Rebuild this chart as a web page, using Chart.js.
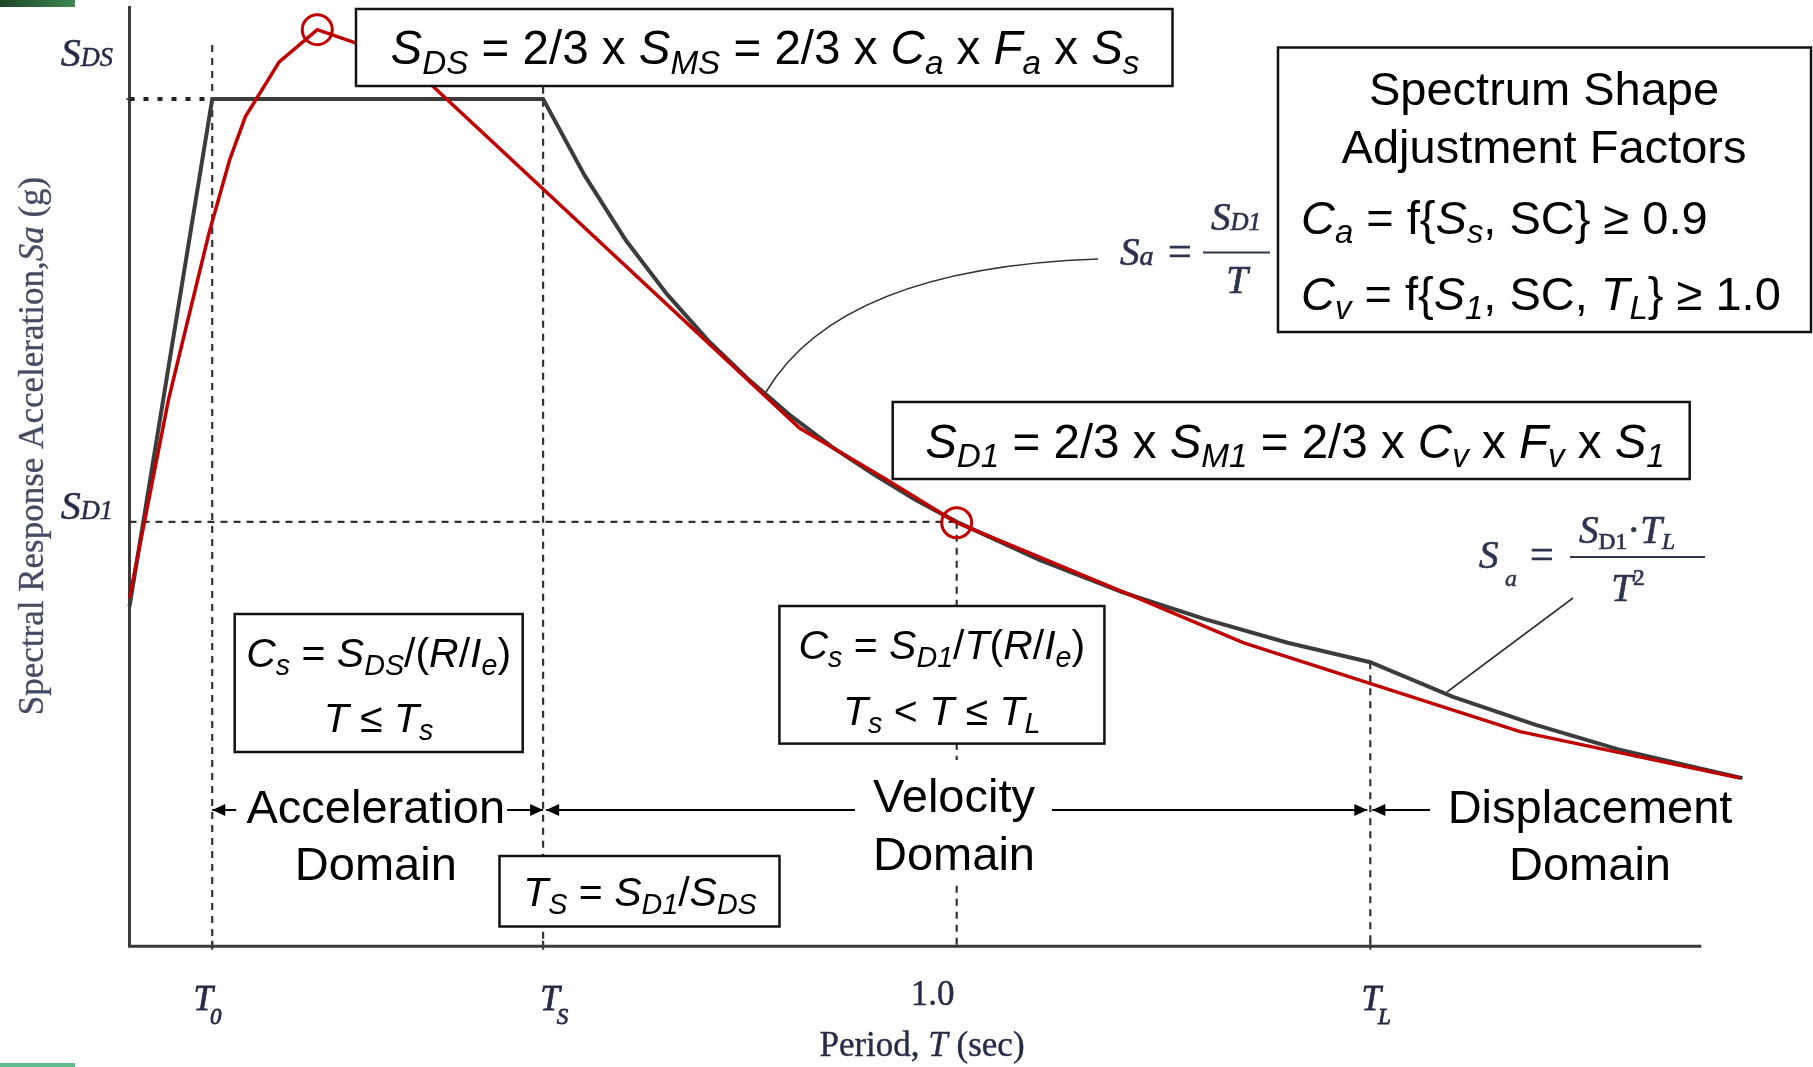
<!DOCTYPE html>
<html><head><meta charset="utf-8">
<script src="https://cdn.jsdelivr.net/npm/chart.js@4.4.1/dist/chart.umd.min.js"></script>
<style>html,body{margin:0;padding:0;background:#fff;overflow:hidden}canvas{display:block}</style>
</head><body>
<canvas id="c" width="1813" height="1067" style="width:1813px;height:1067px"></canvas>
<script>
// ---------- data ----------
// design spectrum (black), period T (sec, marked 1.0 = 1.0) and Sa (SDS = 1.0)
const designT  = [0, 0.1, 0.5, 0.55, 0.6, 0.65, 0.7, 0.75, 0.8, 0.85, 0.9, 0.95, 1.0, 1.1, 1.2, 1.3, 1.4, 1.5, 1.6, 1.7, 1.8, 1.9, 1.95];
const designSa = [0.40, 1.0, 1.0, 0.91, 0.833, 0.769, 0.714, 0.667, 0.625, 0.588, 0.556, 0.526, 0.5, 0.455, 0.417, 0.385, 0.357, 0.334, 0.293, 0.260, 0.231, 0.208, 0.197];
// proposed spectrum (red)
const proposedT  = [0, 0.047, 0.096, 0.121, 0.140, 0.181, 0.227, 0.274, 0.334, 0.810, 0.915, 1.0, 1.214, 1.347, 1.681, 1.947];
const proposedSa = [0.41, 0.644, 0.841, 0.928, 0.979, 1.044, 1.082, 1.066, 1.045, 0.611, 0.550, 0.499, 0.412, 0.357, 0.252, 0.197];
// red circle markers
const markerT  = [0.227, 1.0];
const markerSa = [1.082, 0.499];
// reference levels / periods
const levelSDS = 1.0, levelSD1 = 0.5;
const periodT0 = 0.1, periodTs = 0.5, periodOne = 1.0, periodTL = 1.5;
const axisEndT = 1.9, axisTopSa = 1.11;
// vertical guide lines: period and top value
const guideT   = [periodT0, periodTs, periodOne, periodTL];
const guideTop = [1.064, 1.03, levelSD1, 0.334];
// tick labels
const xTickValues = [periodT0, periodTs, periodOne, periodTL];
const xTickMain   = ['T', 'T', '1.0', 'T'];
const xTickSub    = ['0', 'S', '', 'L'];
const yTickValues = [levelSDS, levelSD1];
const yTickMain   = ['S', 'S'];
const yTickSmall  = ['DS', 'D1'];

// ---------- styles / layout ----------
const SANS = '"Liberation Sans", Arial, Helvetica, sans-serif';
const SERIF = '"Liberation Serif", "Times New Roman", Times, serif';
const RED = '#c00000', BLK = '#3c3c3c', LBL = '#262c48';
const xTickShift = [-9, 7, -24, 1];
const yTickShift = [-32.6, -3];

const pts = (xs, ys) => xs.map((x, i) => ({x, y: ys[i]}));
const guides = guideT.map((t, i) => ({
  data: [{x: t, y: guideTop[i]}, {x: t, y: 0}],
  borderColor: '#333', borderWidth: 2.2, borderDash: [7, 6], pointRadius: 0, order: 10, clip: false
}));

function rich(ctx, segs, x, y, o) {
  const fs = o.size, fam = o.family, ss = o.subScale || 0.7, sd = o.subDy == null ? 0.2 : o.subDy;
  const parts = segs.map(s => {
    const t = Array.isArray(s) ? s[0] : s, f = Array.isArray(s) ? (s[1] || '') : '';
    const small = f.includes('_') || f.includes('^') || f.includes('k');
    const size = small ? fs * (f.includes('k') ? (o.kScale || 0.68) : ss) : fs;
    const font = (f.includes('i') ? 'italic ' : '') + size + 'px ' + fam;
    ctx.font = font;
    const dy = f.includes('_') ? fs * sd : f.includes('^') ? -fs * 0.4 : 0;
    return {t, font, w: ctx.measureText(t).width, dy};
  });
  const total = parts.reduce((a, p) => a + p.w, 0);
  let cx = o.align === 'center' ? x - total / 2 : o.align === 'right' ? x - total : x;
  ctx.textAlign = 'left'; ctx.textBaseline = 'alphabetic';
  parts.forEach(p => {
    ctx.font = p.font; ctx.fillText(p.t, cx, y + p.dy);
    if (o.stroke) { ctx.save(); ctx.lineWidth = o.stroke; ctx.strokeStyle = ctx.fillStyle; ctx.strokeText(p.t, cx, y + p.dy); ctx.restore(); }
    cx += p.w;
  });
  return total;
}
function box(ctx, x, y, w, h) {
  ctx.save(); ctx.fillStyle = '#fff'; ctx.fillRect(x, y, w, h);
  ctx.strokeStyle = '#111'; ctx.lineWidth = 2.5; ctx.strokeRect(x, y, w, h); ctx.restore();
}
function arrow(ctx, x1, x2, y, headAt) {
  ctx.save(); ctx.strokeStyle = '#000'; ctx.fillStyle = '#000'; ctx.lineWidth = 2;
  ctx.beginPath(); ctx.moveTo(x1, y); ctx.lineTo(x2, y); ctx.stroke();
  const hx = headAt === 'left' ? x1 : x2, d = headAt === 'left' ? 1 : -1;
  ctx.beginPath(); ctx.moveTo(hx, y); ctx.lineTo(hx + d * 13, y - 6); ctx.lineTo(hx + d * 13, y + 6); ctx.closePath(); ctx.fill();
  ctx.restore();
}

const deco = {
  id: 'deco',
  beforeDraw(chart) {
    const ctx = chart.ctx; ctx.save();
    const g = ctx.createLinearGradient(0, 0, 75, 0); g.addColorStop(0, '#1d4426'); g.addColorStop(1, '#3f8a52');
    ctx.fillStyle = g; ctx.fillRect(0, 0, 75, 7);
    ctx.fillStyle = '#5fbb8c'; ctx.fillRect(0, 1063, 75, 4);
    ctx.restore();
  },
  beforeDatasetsDraw(chart) {
    const ctx = chart.ctx, xs = chart.scales.x, ys = chart.scales.y;
    const X = v => xs.getPixelForValue(v), Y = v => ys.getPixelForValue(v);
    ctx.save();
    ctx.strokeStyle = '#3a3a3a'; ctx.lineWidth = 3; ctx.lineCap = 'butt';
    ctx.beginPath(); ctx.moveTo(X(0), Y(axisTopSa)); ctx.lineTo(X(0), Y(0) + 1.5); ctx.lineTo(X(axisEndT), Y(0) + 1.5); ctx.stroke();
    ctx.lineWidth = 2.2;
    [periodT0, periodTs, periodTL].forEach(t => { ctx.beginPath(); ctx.moveTo(X(t), Y(0) - 4); ctx.lineTo(X(t), Y(0) + 5); ctx.stroke(); });
    ctx.beginPath(); ctx.moveTo(X(0) - 3, Y(levelSDS)); ctx.lineTo(X(0) + 5, Y(levelSDS)); ctx.stroke();
    ctx.restore();
  },
  afterDatasetsDraw(chart) {
    const ctx = chart.ctx, xs = chart.scales.x, ys = chart.scales.y;
    const X = v => xs.getPixelForValue(v), Y = v => ys.getPixelForValue(v);
    ctx.save();
    // leader lines
    ctx.strokeStyle = '#333'; ctx.lineWidth = 1.6;
    ctx.beginPath(); ctx.moveTo(766, 392); ctx.quadraticCurveTo(840, 268, 1098, 259); ctx.stroke();
    ctx.beginPath(); ctx.moveTo(1447, 692); ctx.lineTo(1573, 598); ctx.stroke();

    // boxes
    box(ctx, 356, 9, 816.5, 77);
    box(ctx, 1278, 47.5, 533, 284.5);
    box(ctx, 892.7, 402, 797, 77);
    box(ctx, 234.7, 614, 288, 138);
    box(ctx, 779.4, 606, 325, 137.6);
    box(ctx, 499.5, 856, 280, 70.5);

    ctx.fillStyle = '#000';
    const s47 = {family: SANS, size: 47.5, align: 'center'};
    rich(ctx, [['S','i'],['DS','i_'],' = 2/3 x ',['S','i'],['MS','i_'],' = 2/3 x ',['C','i'],['a','i_'],' x ',['F','i'],['a','i_'],' x ',['S','i'],['s','i_']], 765, 47 + 17, s47);
    rich(ctx, [['S','i'],['D1','i_'],' = 2/3 x ',['S','i'],['M1','i_'],' = 2/3 x ',['C','i'],['v','i_'],' x ',['F','i'],['v','i_'],' x ',['S','i'],['1','i_']], 1295, 440.5 + 17, s47);
    const s47c = {family: SANS, size: 47, align: 'center'};
    const s47l = {family: SANS, size: 47, align: 'left'};
    rich(ctx, ['Spectrum Shape'], 1544, 88 + 17, s47c);
    rich(ctx, ['Adjustment Factors'], 1544, 146 + 17, s47c);
    rich(ctx, [['C','i'],['a','i_'],' = f{',['S','i'],['s','i_'],', SC} \u2265 0.9'], 1301, 217 + 17, s47l);
    rich(ctx, [['C','i'],['v','i_'],' = f{',['S','i'],['1','i_'],', SC, ',['T','i'],['L','i_'],'} \u2265 1.0'], 1301, 292.5 + 17, s47l);
    const s41 = {family: SANS, size: 41, align: 'center'};
    rich(ctx, [['C','i'],['s','i_'],' = ',['S','i'],['DS','i_'],'/(',['R','i'],'/',['I','i'],['e','i_'],')'], 378.6, 652 + 15, s41);
    rich(ctx, [['T','i'],' \u2264 ',['T','i'],['s','i_']], 378.6, 717 + 15, s41);
    rich(ctx, [['C','i'],['s','i_'],' = ',['S','i'],['D1','i_'],'/',['T','i'],'(',['R','i'],'/',['I','i'],['e','i_'],')'], 941.8, 644 + 15, s41);
    rich(ctx, [['T','i'],['s','i_'],' < ',['T','i'],' \u2264 ',['T','i'],['L','i_']], 941.8, 710 + 15, s41);
    rich(ctx, [['T','i'],['S','i_'],' = ',['S','i'],['D1','i_'],'/',['S','i'],['DS','i_']], 640, 891 + 15, s41);

    // domain labels + arrows
    ctx.fillStyle = '#fff'; ctx.fillRect(872, 760, 166, 120); ctx.fillStyle = '#000';
    rich(ctx, ['Acceleration'], 375.8, 806 + 17, s47c);
    rich(ctx, ['Domain'], 375.8, 863 + 17, s47c);
    rich(ctx, ['Velocity'], 954, 795 + 17, s47c);
    rich(ctx, ['Domain'], 954, 853 + 17, s47c);
    rich(ctx, ['Displacement'], 1590, 806 + 17, s47c);
    rich(ctx, ['Domain'], 1590, 863 + 17, s47c);
    const ay = 810;
    arrow(ctx, X(periodT0), X(periodT0) + 24, ay, 'left');
    arrow(ctx, X(periodTs) - 36, X(periodTs), ay, 'right');
    arrow(ctx, X(periodTs) + 3, 855, ay, 'left');
    arrow(ctx, 1052, X(periodTL) - 3, ay, 'right');
    arrow(ctx, X(periodTL) + 2, 1430, ay, 'left');

    // serif formulas
    ctx.fillStyle = '#2e3450'; ctx.strokeStyle = '#2e3450';
    rich(ctx, [['S','i'],['a','ik']], 1120, 265, {family: SERIF, size: 39, align: 'left', kScale: 0.72, stroke: 0.7});
    rich(ctx, ['='], 1168, 265, {family: SERIF, size: 42, align: 'left', stroke: 0.7});
    ctx.lineWidth = 2; ctx.beginPath(); ctx.moveTo(1203, 252.5); ctx.lineTo(1270, 252.5); ctx.stroke();
    rich(ctx, [['S','i'],['D1','ik']], 1236, 230, {family: SERIF, size: 39, align: 'center', kScale: 0.64, stroke: 0.7});
    rich(ctx, [['T','i']], 1237, 293, {family: SERIF, size: 39, align: 'center', stroke: 0.7});

    rich(ctx, [['S','i']], 1479, 568, {family: SERIF, size: 39, align: 'left', stroke: 0.7});
    rich(ctx, [['a','i']], 1505, 586, {family: SERIF, size: 24, align: 'left', stroke: 0.5});
    rich(ctx, ['='], 1530, 568, {family: SERIF, size: 42, align: 'left', stroke: 0.7});
    ctx.lineWidth = 2; ctx.beginPath(); ctx.moveTo(1570, 557); ctx.lineTo(1705, 557); ctx.stroke();
    rich(ctx, [['S','i'],['D1','_'],'\u00b7',['T','i'],['L','i_']], 1627, 543, {family: SERIF, size: 39, align: 'center', subScale: 0.6, subDy: 0.15, stroke: 0.7});
    rich(ctx, [['T','i'],['2','^']], 1628, 601, {family: SERIF, size: 39, align: 'center', subScale: 0.6, stroke: 0.7});

    // y tick labels
    ctx.fillStyle = LBL;
    yTickValues.forEach((v, i) => {
      rich(ctx, [[yTickMain[i], 'i'], [yTickSmall[i], 'ik']], 113, Y(v) + yTickShift[i], {family: SERIF, size: 40, align: 'right', kScale: 0.66, stroke: 0.5});
    });
    // x tick labels
    xTickValues.forEach((v, i) => {
      const cx = X(v) + xTickShift[i];
      if (xTickSub[i]) {
        ctx.font = 'italic 35px ' + SERIF; const w = ctx.measureText(xTickMain[i]).width;
        ctx.textAlign = 'left'; ctx.textBaseline = 'alphabetic';
        ctx.lineWidth = 0.8; ctx.strokeStyle = LBL;
        ctx.fillText(xTickMain[i], cx - w / 2, 1010); ctx.strokeText(xTickMain[i], cx - w / 2, 1010);
        ctx.font = 'italic 23px ' + SERIF; ctx.fillText(xTickSub[i], cx + w / 2 - 3, 1024); ctx.strokeText(xTickSub[i], cx + w / 2 - 3, 1024);
      } else {
        rich(ctx, [xTickMain[i]], cx, 1005, {family: SERIF, size: 35, align: 'center', stroke: 0.4});
      }
    });
    // axis titles
    rich(ctx, ['Period, ', ['T','i'], ' (sec)'], 922, 1056, {family: SERIF, size: 35, align: 'center', stroke: 0.4});
    ctx.save(); ctx.fillStyle = '#454b63';
    ctx.translate(43, 446); ctx.rotate(-Math.PI / 2);
    rich(ctx, ['Spectral Response Acceleration,', ['Sa','i'], ' (g)'], 0, 0, {family: SERIF, size: 35, align: 'center', stroke: 0.3});
    ctx.restore();
    ctx.restore();
  }
};

new Chart(document.getElementById('c'), {
  type: 'line',
  data: {
    datasets: [
      {data: pts(markerT, markerSa), showLine: false, pointRadius: 15, pointHoverRadius: 15, pointBorderWidth: 3,
       pointBorderColor: RED, pointBackgroundColor: 'rgba(0,0,0,0)', borderColor: RED, order: 1, clip: false},
      {data: pts(proposedT, proposedSa), borderColor: RED, borderWidth: 3.5, pointRadius: 0, tension: 0, order: 2, clip: false},
      {data: pts(designT, designSa), borderColor: BLK, borderWidth: 4, pointRadius: 0, tension: 0, order: 3, clip: false},
      {data: [{x: 0, y: levelSDS}, {x: periodT0, y: levelSDS}], borderColor: '#222', borderWidth: 4, borderDash: [5, 9], pointRadius: 0, order: 10, clip: false},
      {data: [{x: 0, y: levelSD1}, {x: periodOne, y: levelSD1}], borderColor: '#333', borderWidth: 2.2, borderDash: [7, 6], pointRadius: 0, order: 10, clip: false},
      ...guides
    ]
  },
  options: {
    responsive: false, animation: false, devicePixelRatio: 1,
    layout: {autoPadding: false, padding: {left: 129.5, top: 6, right: 29.1, bottom: 122.3}},
    plugins: {legend: {display: false}, tooltip: {enabled: false}},
    events: [],
    scales: {
      x: {type: 'linear', display: false, min: 0, max: 2.0},
      y: {type: 'linear', display: false, min: 0, max: axisTopSa}
    }
  },
  plugins: [deco]
});
</script>
</body></html>
